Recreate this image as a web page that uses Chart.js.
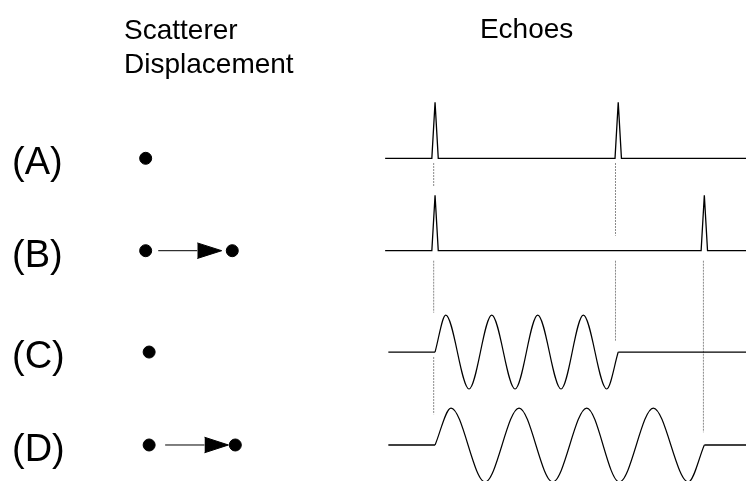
<!DOCTYPE html>
<html><head><meta charset="utf-8">
<script src="https://cdn.jsdelivr.net/npm/chart.js@4/dist/chart.umd.min.js"></script>
<style>html,body{margin:0;padding:0;background:#fff}#wrap{width:746px;height:481px;position:relative}</style>
</head><body><div id="wrap"><canvas id="c"></canvas></div>
<script>
// ---- data ----
const rowLabels = ['(A)', '(B)', '(C)', '(D)'];
const rowY = [0, -1.65, -3.46, -5.12];            // baseline level of each row
const headerLeft = ['Scatterer', 'Displacement'];
const headerRight = ['Echoes'];
const traceStart = [-1.09, -1.09, -1.02, -1.02];   // echo time where each trace starts
const traceEnd = 6.79;
const echoTimesA = [0, 4.0];
const echoTimesB = [0, 5.88];
const pulseHeightA = [1.0, 1.0];
const pulseHeightB = [0.99, 0.99];
const pulseHalfWidth = 0.07;
const waveStartC = 0, waveEndC = 4.0;
const waveExtremaC = [0.234, 0.742, 1.238, 1.747, 2.242, 2.751, 3.238, 3.749];
const waveStartD = 0, waveEndD = 5.88;
const waveExtremaD = [0.349, 1.092, 1.834, 2.570, 3.312, 4.024, 4.766, 5.531];
const waveAmp = 0.66;
const scattererStart = [0, 0, 0.04, 0.04];
const scattererEnd = [null, 1.0, null, 1.035];
const arrowShaftStart = [null, 0.145, null, 0.185];
const arrowHeadBase = [null, 0.596, null, 0.639];
const arrowTip = [null, 0.878, null, 0.916];
const arrowHalfHeight = 0.139;
const guideT = [-0.03, -0.03, -0.03, 3.94, 3.94, 5.86];
const guideTop = [-0.084, -1.829, -3.548, -0.084, -1.829, -1.829];
const guideBottom = [-0.495, -2.757, -4.571, -1.382, -3.257, -4.893];

// ---- build datasets ----
const INK = '#000';
const datasets = [];
function lineDs(points, extra) {
  return Object.assign({
    type: 'line', data: points, xAxisID: 'x', yAxisID: 'y',
    borderColor: INK, borderWidth: 1.3, pointRadius: 0, tension: 0, fill: false
  }, extra || {});
}
function pulseTrace(row, times, heights) {
  const y0 = rowY[row];
  const pts = [{x: traceStart[row], y: y0}];
  times.forEach((t, i) => {
    pts.push({x: t - pulseHalfWidth, y: y0});
    pts.push({x: t, y: y0 + heights[i]});
    pts.push({x: t + pulseHalfWidth, y: y0});
  });
  pts.push({x: traceEnd, y: y0});
  datasets.push(lineDs(pts));
}
function waveTrace(row, start, ext, end) {
  const y0 = rowY[row];
  datasets.push(lineDs([{x: traceStart[row], y: y0}, {x: start, y: y0}]));
  const pts = [{x: start, y: y0}];
  ext.forEach((t, i) => pts.push({x: t, y: y0 + (i % 2 === 0 ? waveAmp : -waveAmp)}));
  pts.push({x: end, y: y0});
  datasets.push(lineDs(pts, {cubicInterpolationMode: 'monotone', borderWidth: 1.2}));
  datasets.push(lineDs([{x: end, y: y0}, {x: traceEnd, y: y0}]));
}
pulseTrace(0, echoTimesA, pulseHeightA);
pulseTrace(1, echoTimesB, pulseHeightB);
waveTrace(2, waveStartC, waveExtremaC, waveEndC);
waveTrace(3, waveStartD, waveExtremaD, waveEndD);

guideT.forEach((t, i) => {
  datasets.push(lineDs([{x: t, y: guideTop[i]}, {x: t, y: guideBottom[i]}],
    {borderColor: '#8a8a8a', borderWidth: 1, borderDash: [2, 1]}));
});

// scatterers
const dots = [];
rowY.forEach((y, r) => {
  dots.push({x: scattererStart[r], y});
  if (scattererEnd[r] !== null) dots.push({x: scattererEnd[r], y});
});
datasets.push({type: 'scatter', data: dots, xAxisID: 'xs', yAxisID: 'y', showLine: false,
  pointRadius: 6, pointBackgroundColor: INK, pointBorderColor: INK, pointBorderWidth: 1});

// arrows
rowY.forEach((y, r) => {
  if (arrowTip[r] === null) return;
  const s = scattererStart[r];
  datasets.push(lineDs([{x: s + arrowShaftStart[r], y}, {x: s + arrowHeadBase[r], y}], {xAxisID: 'xs', borderWidth: 1}));
  datasets.push(lineDs([{x: s + arrowHeadBase[r], y: y + arrowHalfHeight}, {x: s + arrowTip[r], y}], {xAxisID: 'xs', borderWidth: 1}));
  datasets.push(lineDs([{x: s + arrowHeadBase[r], y: y - arrowHalfHeight}, {x: s + arrowTip[r], y}],
    {xAxisID: 'xs', borderWidth: 1, fill: '-1', backgroundColor: INK}));
});

// ---- text plugin ----
const FONT = '"Liberation Sans", Arial, Helvetica, sans-serif';
const textPlugin = {
  id: 'texts',
  afterDraw(chart) {
    const ctx = chart.ctx;
    const xs = chart.scales.xs, xt = chart.scales.x, ys = chart.scales.y;
    ctx.save();
    ctx.fillStyle = INK;
    ctx.textBaseline = 'alphabetic';
    ctx.font = '28px ' + FONT;
    ctx.textAlign = 'left';
    const hx = xs.getPixelForValue(-0.25);
    ctx.fillText(headerLeft[0], hx, 39);
    ctx.fillText(headerLeft[1], hx, 73);
    ctx.textAlign = 'center';
    ctx.fillText(headerRight[0], xt.getPixelForValue(2.0), 38);
    ctx.textAlign = 'left';
    ctx.font = '38px ' + FONT;
    rowLabels.forEach((lab, r) => {
      ctx.fillText(lab, 12, ys.getPixelForValue(rowY[r]) + 16);
    });
    ctx.restore();
  }
};

new Chart(document.getElementById('c'), {
  data: {datasets},
  options: {
    responsive: true, maintainAspectRatio: false, animation: false, events: [],
    layout: {padding: 0, autoPadding: false},
    plugins: {legend: {display: false}, tooltip: {enabled: false}, title: {display: false}},
    scales: {
      x: {type: 'linear', display: false, min: -9.5, max: 6.79},
      xs: {type: 'linear', display: false, min: -1.682, max: 6.932},
      y: {type: 'linear', display: false, min: -5.763, max: 2.827}
    }
  },
  plugins: [textPlugin]
});
</script></body></html>
